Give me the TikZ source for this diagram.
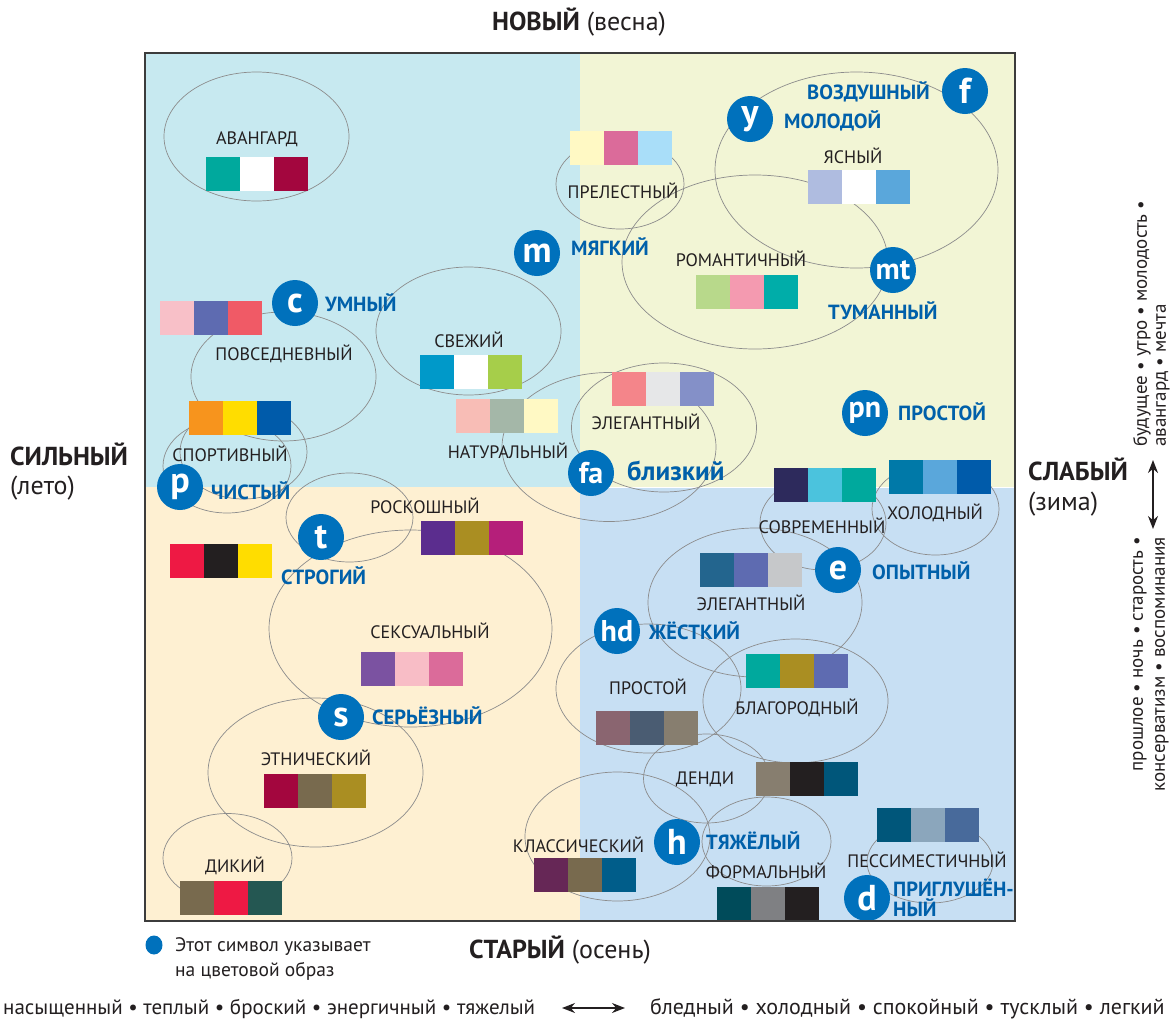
\documentclass[tikz,border=0pt]{standalone}
\usepackage{fontspec}
\setmainfont{PT Sans}
\usetikzlibrary{shapes.geometric,arrows.meta}
\definecolor{qTL}{HTML}{C7E9F0}
\definecolor{qTR}{HTML}{F2F5D5}
\definecolor{qBL}{HTML}{FEF0D2}
\definecolor{qBR}{HTML}{C7DFF3}
\definecolor{frameC}{HTML}{3C3C3C}
\definecolor{ellC}{HTML}{8C8C8C}
\definecolor{badgeC}{HTML}{0071BC}
\definecolor{lblC}{HTML}{0060AA}
\definecolor{txtC}{HTML}{231F20}
\definecolor{cTeal}{HTML}{00A99D}
\definecolor{cCrimson}{HTML}{A3063E}
\definecolor{cLYellow}{HTML}{FFF9C4}
\definecolor{cPinkA}{HTML}{DB6B9A}
\definecolor{cLBlue}{HTML}{A9DEF9}
\definecolor{cLavender}{HTML}{AFBCE0}
\definecolor{cBlueB}{HTML}{5AA7DB}
\definecolor{cLGreen}{HTML}{B8D98B}
\definecolor{cPinkB}{HTML}{F49AB0}
\definecolor{cTealB}{HTML}{00ADA9}
\definecolor{cLPink}{HTML}{F8C0C8}
\definecolor{cViolet}{HTML}{5E6BB1}
\definecolor{cCoral}{HTML}{F05A66}
\definecolor{cBlueC}{HTML}{0099C9}
\definecolor{cGreen}{HTML}{A6CE4A}
\definecolor{cSalmon}{HTML}{F8BDB6}
\definecolor{cGreyGreen}{HTML}{A4B7A8}
\definecolor{cOrange}{HTML}{F7941D}
\definecolor{cYellow}{HTML}{FFDD00}
\definecolor{cBlueD}{HTML}{005BAA}
\definecolor{cRose}{HTML}{F4858A}
\definecolor{cLGray}{HTML}{E6E7E8}
\definecolor{cPeri}{HTML}{8490C8}
\definecolor{cPurple}{HTML}{5B2D8E}
\definecolor{cGold}{HTML}{AA8E22}
\definecolor{cMagenta}{HTML}{B51F7A}
\definecolor{cRed}{HTML}{EE1944}
\definecolor{cBlack}{HTML}{231F20}
\definecolor{cNavy}{HTML}{2D2A5C}
\definecolor{cCyan}{HTML}{4BC3DD}
\definecolor{cTealBlue}{HTML}{0079A8}
\definecolor{cSteel}{HTML}{23658E}
\definecolor{cSilver}{HTML}{C6C8CA}
\definecolor{cPurpleB}{HTML}{7B52A1}
\definecolor{cPinkC}{HTML}{F8BDC6}
\definecolor{cBrown}{HTML}{786A4E}
\definecolor{cDGreen}{HTML}{245752}
\definecolor{cMauve}{HTML}{8A6570}
\definecolor{cSlate}{HTML}{4A5C72}
\definecolor{cTaupe}{HTML}{877E6F}
\definecolor{cPetrol}{HTML}{00567A}
\definecolor{cPlum}{HTML}{662756}
\definecolor{cPetrolB}{HTML}{005D8A}
\definecolor{cDTeal}{HTML}{004B5A}
\definecolor{cGray}{HTML}{7F8083}
\definecolor{cGreyBlue}{HTML}{8BA6BC}
\definecolor{cDenim}{HTML}{486A9B}
\newcommand\swatch[6]{%
  \node[sq, fill=#4, anchor=north west] (#1a) at (#2,#3) {};
  \node[sq, fill=#5, anchor=west] (#1b) at (#1a.east) {};
  \node[sq, fill=#6, anchor=west] (#1c) at (#1b.east) {};}
\newcommand\myell[5]{\node[ellp, minimum width=#4, minimum height=#5] (#1) at (#2,#3) {};}
\begin{document}
\begin{tikzpicture}[x=1pt,y=-1pt,
  lbl/.style={font=\fontsize{18}{20}\selectfont, text=txtC, inner sep=0pt, anchor=base},
  blbl/.style={font=\fontsize{20.5}{22}\selectfont\bfseries, text=lblC, inner sep=0pt, anchor=base west},
  badge/.style={circle, fill=badgeC, minimum size=46pt, inner sep=0pt, text=white, font=\fontsize{36}{36}\selectfont\bfseries},
  badgetwo/.style={badge, font=\fontsize{30}{30}\selectfont\bfseries},
  ellp/.style={ellipse, draw=ellC, line width=0.7pt, inner sep=0pt},
  sq/.style={rectangle, minimum size=33.7pt, inner sep=0pt, draw=none},
  side/.style={font=\fontsize{26}{28}\selectfont, text=txtC, inner sep=0pt},
  rot/.style={font=\fontsize{19}{21}\selectfont, text=txtC, inner sep=0pt, rotate=90},
  note/.style={font=\fontsize{19.5}{21}\selectfont, text=txtC, inner sep=0pt, anchor=base west},
  arr/.style={{Stealth[length=13pt,width=10pt]}-{Stealth[length=13pt,width=10pt]}, line width=1.5pt, txtC}
]
\useasboundingbox (0,0) rectangle (1176,1018);
% quadrants
\fill[qTL] (145,53) rectangle (580,487);
\fill[qTR] (580,53) rectangle (1015,487);
\fill[qBL] (145,487) rectangle (580,921);
\fill[qBR] (580,487) rectangle (1015,921);
\draw[white, line width=1.2pt] (580,487.5) -- (1015,487.5);
% ellipses
\myell{eAvant}{256.5}{136.5}{185}{129}
\myell{ePrel}{620}{184}{128}{90}
\myell{eYas}{856.5}{170}{283}{196}
\myell{eRom}{755}{262}{266}{174}
\myell{ePov}{283.5}{376.5}{185}{129}
\myell{eSvez}{468.5}{331}{185}{128}
\myell{eNat}{609}{447}{214}{149}
\myell{eEleg}{664}{427.5}{185}{129}
\myell{eSportA}{227}{466}{128}{94}
\myell{eSportB}{243.5}{452}{127}{94}
\myell{eLux}{349.5}{517.5}{127}{89}
\myell{eSex}{410.5}{628.5}{283}{197}
\myell{eEth}{315.5}{772.5}{215}{149}
\myell{eWild}{227.5}{858}{129}{89}
\myell{eMod}{823}{523}{126}{94}
\myell{eCold}{935.5}{509}{127}{92}
\myell{eElegB}{755}{602.5}{214}{149}
\myell{eSimple}{648.5}{688.5}{185}{129}
\myell{eNoble}{795.5}{701}{185}{124}
\myell{eDandy}{706.5}{778.5}{126}{89}
\myell{eClass}{617.5}{836.5}{185}{129}
\myell{eFormal}{766.5}{841.5}{129}{89}
\myell{ePess}{930}{862}{126}{82}
% swatches
\swatch{sA}{206}{157}{cTeal}{white}{cCrimson}
\swatch{sB}{570}{131}{cLYellow}{cPinkA}{cLBlue}
\swatch{sC}{808}{170}{cLavender}{white}{cBlueB}
\swatch{sD}{696}{275}{cLGreen}{cPinkB}{cTealB}
\swatch{sE}{160}{301}{cLPink}{cViolet}{cCoral}
\swatch{sF}{420}{355}{cBlueC}{white}{cGreen}
\swatch{sG}{456}{399}{cSalmon}{cGreyGreen}{cLYellow}
\swatch{sH}{189}{401}{cOrange}{cYellow}{cBlueD}
\swatch{sI}{612}{372}{cRose}{cLGray}{cPeri}
\swatch{sJ}{421}{521}{cPurple}{cGold}{cMagenta}
\swatch{sK}{170}{544}{cRed}{cBlack}{cYellow}
\swatch{sL}{774}{468}{cNavy}{cCyan}{cTeal}
\swatch{sM}{889}{460}{cTealBlue}{cBlueB}{cBlueD}
\swatch{sN}{700}{553}{cSteel}{cViolet}{cSilver}
\swatch{sO}{361}{652}{cPurpleB}{cPinkC}{cPinkA}
\swatch{sP}{264}{774}{cCrimson}{cBrown}{cGold}
\swatch{sQ}{180}{881}{cBrown}{cRed}{cDGreen}
\swatch{sR}{596}{711}{cMauve}{cSlate}{cTaupe}
\swatch{sS}{746}{654}{cTeal}{cGold}{cViolet}
\swatch{sT}{756}{762}{cTaupe}{cBlack}{cPetrol}
\swatch{sU}{534}{858}{cPlum}{cBrown}{cPetrolB}
\swatch{sV}{717}{887}{cDTeal}{cGray}{cBlack}
\swatch{sW}{877}{808}{cPetrol}{cGreyBlue}{cDenim}
% black labels
\node[lbl] (tAvant) at (257,144.5) {АВАНГАРД};
\node[lbl] (tPrel) at (623,198.5) {ПРЕЛЕСТНЫЙ};
\node[lbl] (tYas) at (853,163.5) {ЯСНЫЙ};
\node[lbl] (tRom) at (741,266.5) {РОМАНТИЧНЫЙ};
\node[lbl] (tPov) at (284,360.5) {ПОВСЕДНЕВНЫЙ};
\node[lbl] (tSvez) at (469,347.5) {СВЕЖИЙ};
\node[lbl] (tNat) at (508,458.5) {НАТУРАЛЬНЫЙ};
\node[lbl] (tSport) at (230,461.5) {СПОРТИВНЫЙ};
\node[lbl] (tEleg) at (646,429.5) {ЭЛЕГАНТНЫЙ};
\node[lbl] (tLux) at (425,513.5) {РОСКОШНЫЙ};
\node[lbl] (tMod) at (822,533.5) {СОВРЕМЕННЫЙ};
\node[lbl] (tCold) at (935,519.5) {ХОЛОДНЫЙ};
\node[lbl] (tElegB) at (751,610.5) {ЭЛЕГАНТНЫЙ};
\node[lbl] (tSex) at (430,638.5) {СЕКСУАЛЬНЫЙ};
\node[lbl] (tEth) at (316,765.5) {ЭТНИЧЕСКИЙ};
\node[lbl] (tWild) at (235,872.5) {ДИКИЙ};
\node[lbl] (tSimple) at (648,694.5) {ПРОСТОЙ};
\node[lbl] (tNoble) at (797,714.5) {БЛАГОРОДНЫЙ};
\node[lbl] (tDandy) at (705,784.5) {ДЕНДИ};
\node[lbl] (tClass) at (578.5,852.5) {КЛАССИЧЕСКИЙ};
\node[lbl] (tFormal) at (766,878.5) {ФОРМАЛЬНЫЙ};
\node[lbl] (tPess) at (927,867.5) {ПЕССИМЕСТИЧНЫЙ};
% blue labels
\node[blbl] (bUmn) at (325,311) {УМНЫЙ};
\node[blbl] (bMyag) at (571,255) {МЯГКИЙ};
\node[blbl] (bVozd) at (807,99) {ВОЗДУШНЫЙ};
\node[blbl] (bMol) at (784,128) {МОЛОДОЙ};
\node[blbl] (bTum) at (828,319) {ТУМАННЫЙ};
\node[blbl] (bPros) at (898,420) {ПРОСТОЙ};
\node[blbl, font=\fontsize{27}{29}\selectfont\bfseries] (bBliz) at (627,480) {близкий};
\node[blbl] (bOpyt) at (872,579) {ОПЫТНЫЙ};
\node[blbl] (bChist) at (211,499) {ЧИСТЫЙ};
\node[blbl] (bStrog) at (281,584) {СТРОГИЙ};
\node[blbl] (bSer) at (372,724) {СЕРЬЁЗНЫЙ};
\node[blbl] (bZhes) at (649,639) {ЖЁСТКИЙ};
\node[blbl] (bTyazh) at (706,849) {ТЯЖЁЛЫЙ};
\node[blbl] (bPrig) at (893,896) {ПРИГЛУШЁН-};
\node[blbl] (bPrigB) at (893,916) {НЫЙ};
% badges
\node[badge] (gm) at (537,253) {m};
\node[badge] (gc) at (295,303) {c};
\node[badge] (gy) at (750,119) {y};
\node[badge] (gf) at (965,91) {f};
\node[badgetwo] (gmt) at (893,270) {mt};
\node[badgetwo] (gpn) at (865,413) {pn};
\node[badgetwo] (gfa) at (591,473) {fa};
\node[badge] (ge) at (838,570) {e};
\node[badge] (gp) at (180,487) {p};
\node[badge] (gt) at (321,537) {t};
\node[badge] (gs) at (341,717) {s};
\node[badgetwo] (ghd) at (617,631) {hd};
\node[badge] (gh) at (677,842) {h};
\node[badge] (gd) at (867,898) {d};
% frame
\draw[frameC, line width=1.5pt] (145,53) rectangle (1015,921);
% outer labels
\node[side] (nNew) at (579,22) {\textbf{НОВЫЙ} (весна)};
\node[side, anchor=base west] (nStrong) at (10,465) {\textbf{СИЛЬНЫЙ}};
\node[side, anchor=base west] (nSummer) at (10,494) {(лето)};
\node[side, anchor=base west] (nWeak) at (1028,480) {\textbf{СЛАБЫЙ}};
\node[side, anchor=base west] (nWinter) at (1028,510) {(зима)};
\node[side] (nOld) at (560,950) {\textbf{СТАРЫЙ} (осень)};
% right rotated texts
\node[rot, anchor=west] (rU1) at (1142,447) {будущее • утро • молодость •};
\node[rot, anchor=west] (rU2) at (1163,447) {авангард • мечта};
\node[rot, anchor=east] (rD1) at (1140,537) {прошлое • ночь • старость •};
\node[rot, anchor=east] (rD2) at (1162,537) {консерватизм • воспоминания};
\coordinate (va) at (1153,460);
\coordinate (vb) at (1153,529);
\draw[arr] (va) -- (vb);
% legend
\node[ellipse, fill=badgeC, minimum width=17pt, minimum height=19pt, inner sep=0pt] (legDot) at (154,945) {};
\node[note] (legT1) at (175,951) {Этот символ указывает};
\node[note] (legT2) at (175,976) {на цветовой образ};
% bottom
\node[note, font=\fontsize{21}{23}\selectfont] (botL) at (3,1014) {насыщенный • теплый • броский • энергичный • тяжелый};
\node[note, font=\fontsize{22}{24}\selectfont] (botR) at (650,1014) {бледный • холодный • спокойный • тусклый • легкий};
\coordinate (ha) at (562,1008);
\coordinate (hb) at (625,1008);
\draw[arr] (ha) -- (hb);
\end{tikzpicture}
\end{document}
